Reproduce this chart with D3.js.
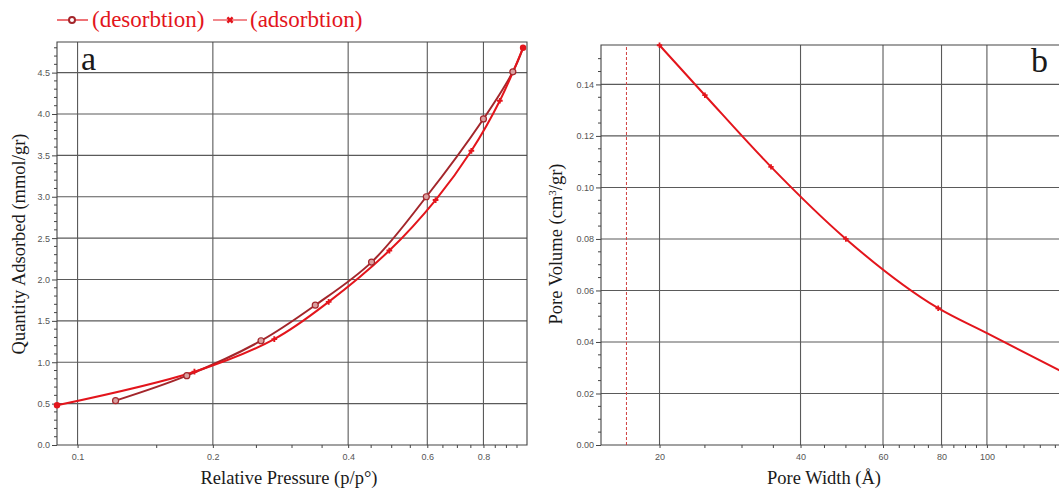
<!DOCTYPE html>
<html>
<head>
<meta charset="utf-8">
<script src="https://cdn.jsdelivr.net/npm/d3@7"></script>
<style>
  html, body { margin: 0; padding: 0; background: #fff; }
  svg { display: block; }
  .tick-lbl { font-family: "Liberation Sans", Arial, sans-serif; font-size: 9px; fill: #555; }
  .ax-title { font-family: "Liberation Serif", "Times New Roman", serif; font-size: 18.5px; fill: #1a1a1a; }
  .grid { stroke: #5a5a5a; stroke-width: 1.1; }
  .frame { stroke: #444; stroke-width: 1.1; fill: none; }
</style>
</head>
<body>
<div id="chart"></div>
<script>
// ── Data: panel a (isotherm) ────────────────────────────────
const adsorbP   = [0.09, 0.182, 0.274, 0.362, 0.494, 0.626, 0.752, 0.87, 0.98];
const adsorbQ   = [0.48, 0.886, 1.28, 1.73, 2.35, 2.96, 3.555, 4.16, 4.80];
const desorbP   = [0.98, 0.93, 0.80, 0.597, 0.451, 0.338, 0.256, 0.175, 0.1215];
const desorbQ   = [4.80, 4.51, 3.94, 3.00, 2.21, 1.69, 1.26, 0.838, 0.536];

// ── Data: panel b (pore size distribution) ─────────────────
const poreWidth  = [20, 25, 34.6, 50, 78.7, 100, 150];
const poreVolume = [0.1552, 0.1358, 0.108, 0.080, 0.0531, 0.0434, 0.027];
const cutoffWidth = 17;

// ── Tick values ─────────────────────────────────────────────
const aXTicks = [0.1, 0.2, 0.4, 0.6, 0.8];
const aXMinor = [0.15, 0.25, 0.3, 0.35, 0.45, 0.5, 0.55, 0.65, 0.7, 0.75, 0.85, 0.9, 0.95];
const aYTicks = [0, 0.5, 1.0, 1.5, 2.0, 2.5, 3.0, 3.5, 4.0, 4.5];
const bXTicks = [20, 40, 60, 80, 100];
const bXMinor = [25, 30, 35, 45, 50, 55, 65, 70, 75, 85, 90, 95, 110, 120, 130, 140];
const bYTicks = [0, 0.02, 0.04, 0.06, 0.08, 0.10, 0.12, 0.14];

const W = 1059, H = 488;
const RED = "#e3151c", DARK = "#a3262b";

const svg = d3.select("#chart").append("svg")
  .attr("width", W).attr("height", H);

// ── Scales ──────────────────────────────────────────────────
const xA = d3.scaleLog().domain([0.09, 1.0]).range([57, 527]);
const yA = d3.scaleLinear().domain([0, 4.87]).range([445, 42]);
const xB = d3.scaleLog().domain([15, 150]).range([601, 1069.4]);
const yB = d3.scaleLinear().domain([0, 0.1553]).range([445, 45]);

function panel(x, y, xt, xm, yt, ym, xfmt, yfmt, id) {
  const [x0, x1] = x.range(), [y0, y1] = y.range();
  const g = svg.append("g");

  // grid
  g.selectAll(".gx").data(xt).join("line").attr("class", "grid")
    .attr("x1", d => x(d)).attr("x2", d => x(d)).attr("y1", y0).attr("y2", y1);
  g.selectAll(".gy").data(yt.filter(d => d > 0)).join("line").attr("class", "grid")
    .attr("x1", x0).attr("x2", x1).attr("y1", d => y(d)).attr("y2", d => y(d));

  // frame
  g.append("path").attr("class", "frame")
    .attr("d", `M${x0},${y0}V${y1}H${x1}V${y0}Z`);

  // axes
  const ax = g.append("g").attr("transform", `translate(0,${y0})`)
    .call(d3.axisBottom(x).tickValues(xt).tickFormat(xfmt).tickSize(3).tickPadding(6));
  const ay = g.append("g").attr("transform", `translate(${x0},0)`)
    .call(d3.axisLeft(y).tickValues(yt).tickFormat(yfmt).tickSize(5).tickPadding(2));
  [ax, ay].forEach(a => {
    a.select(".domain").remove();
    a.selectAll("line").attr("stroke", "#444");
    a.selectAll("text").attr("class", "tick-lbl").attr("font-size", null).attr("font-family", null);
  });

  // minor ticks
  g.selectAll(".mx").data(xm).join("line").attr("stroke", "#444")
    .attr("x1", d => x(d)).attr("x2", d => x(d)).attr("y1", y0).attr("y2", y0 + 3);
  g.selectAll(".my").data(ym).join("line").attr("stroke", "#444")
    .attr("x1", x0 - 3).attr("x2", x0).attr("y1", d => y(d)).attr("y2", d => y(d));

  g.append("clipPath").attr("id", id).append("rect")
    .attr("x", x0).attr("y", y1 - 4).attr("width", x1 - x0 + 4).attr("height", y0 - y1 + 4);
  return g;
}

const minorA = d3.range(0.1, 4.87, 0.1).filter(v => Math.abs(v * 2 - Math.round(v * 2)) > 0.01);
const minorB = d3.range(0.005, 0.155, 0.005).filter(v => Math.abs(v * 50 - Math.round(v * 50)) > 0.01);

const gA = panel(xA, yA, aXTicks, aXMinor, aYTicks, minorA, d3.format(".1f"), d3.format(".1f"), "clipA");
const gB = panel(xB, yB, bXTicks, bXMinor, bYTicks, minorB, d3.format("d"), d3.format(".2f"), "clipB");

// ── Panel a curves ──────────────────────────────────────────
const ads = adsorbP.map((p, i) => ({ x: p, y: adsorbQ[i] }));
const des = desorbP.map((p, i) => ({ x: p, y: desorbQ[i] }));
const lineA = d3.line().x(d => xA(d.x)).y(d => yA(d.y)).curve(d3.curveCatmullRom.alpha(0.5));

gA.append("path").datum(des).attr("d", lineA)
  .attr("fill", "none").attr("stroke", DARK).attr("stroke-width", 2);
gA.append("path").datum(ads).attr("d", lineA)
  .attr("fill", "none").attr("stroke", RED).attr("stroke-width", 2);

gA.selectAll(".dm").data(des.slice(1)).join("circle")
  .attr("cx", d => xA(d.x)).attr("cy", d => yA(d.y)).attr("r", 3)
  .attr("fill", "#d9a0a0").attr("stroke", DARK).attr("stroke-width", 1.2);
gA.selectAll(".am").data(ads.slice(1, -1)).join("path")
  .attr("transform", d => `translate(${xA(d.x)},${yA(d.y)})`)
  .attr("d", d3.symbol(d3.symbolCross, 18))
  .attr("fill", RED);
gA.selectAll(".ae").data([ads[0], ads[ads.length - 1]]).join("circle")
  .attr("cx", d => xA(d.x)).attr("cy", d => yA(d.y)).attr("r", 3.2)
  .attr("fill", RED);

// ── Panel b curve ───────────────────────────────────────────
const pore = poreWidth.map((w, i) => ({ x: w, y: poreVolume[i] }));
const lineB = d3.line().x(d => xB(d.x)).y(d => yB(d.y)).curve(d3.curveMonotoneX);
const gBc = gB.append("g").attr("clip-path", "url(#clipB)");
gBc.append("line")
  .attr("x1", xB(cutoffWidth)).attr("x2", xB(cutoffWidth))
  .attr("y1", yB.range()[0]).attr("y2", yB.range()[1])
  .attr("stroke", "#d04040").attr("stroke-width", 1).attr("stroke-dasharray", "3,2");
gBc.append("path").datum(pore).attr("d", lineB)
  .attr("fill", "none").attr("stroke", RED).attr("stroke-width", 2);
gBc.selectAll(".bm").data(pore.filter(d => d.x !== 100 && d.x < 140)).join("path")
  .attr("transform", d => `translate(${xB(d.x)},${yB(d.y)})`)
  .attr("d", d3.symbol(d3.symbolCross, 16))
  .attr("fill", RED);

// ── Axis titles & panel letters ─────────────────────────────
svg.append("text").attr("class", "ax-title").attr("text-anchor", "middle")
  .attr("transform", "translate(25,244) rotate(-90)").text("Quantity Adsorbed (mmol/gr)");
svg.append("text").attr("class", "ax-title").attr("text-anchor", "middle")
  .attr("x", 289).attr("y", 484).text("Relative Pressure (p/p°)");
const pv = svg.append("text").attr("class", "ax-title").attr("text-anchor", "middle")
  .attr("transform", "translate(562,244) rotate(-90)");
pv.append("tspan").text("Pore Volume (cm");
pv.append("tspan").style("font-size", "11px").attr("dy", -6).text("3");
pv.append("tspan").attr("dy", 6).text("/gr)");
svg.append("text").attr("class", "ax-title").attr("text-anchor", "middle")
  .attr("x", 824).attr("y", 484).text("Pore Width (Å)");

svg.append("text").attr("class", "ax-title").style("font-size", "34px")
  .attr("x", 81).attr("y", 70).text("a");
svg.append("text").attr("class", "ax-title").style("font-size", "34px")
  .attr("x", 1031).attr("y", 72).text("b");

// ── Legend ──────────────────────────────────────────────────
const leg = svg.append("g").attr("font-family", "Liberation Serif, Times New Roman, serif")
  .attr("font-size", "23px").attr("fill", RED);
leg.append("line").attr("x1", 57).attr("x2", 88).attr("y1", 20).attr("y2", 20)
  .attr("stroke", RED).attr("stroke-width", 1.2);
leg.append("circle").attr("cx", 72).attr("cy", 20).attr("r", 3)
  .attr("fill", "#fff").attr("stroke", DARK).attr("stroke-width", 2);
leg.append("text").attr("x", 92).attr("y", 27).text("(desorbtion)");
leg.append("line").attr("x1", 213).attr("x2", 247).attr("y1", 20).attr("y2", 20)
  .attr("stroke", RED).attr("stroke-width", 1.2);
leg.append("path").attr("transform", "translate(230,20) rotate(45)")
  .attr("d", d3.symbol(d3.symbolCross, 30)).attr("fill", RED);
leg.append("text").attr("x", 250).attr("y", 27).text("(adsorbtion)");
</script>
</body>
</html>
